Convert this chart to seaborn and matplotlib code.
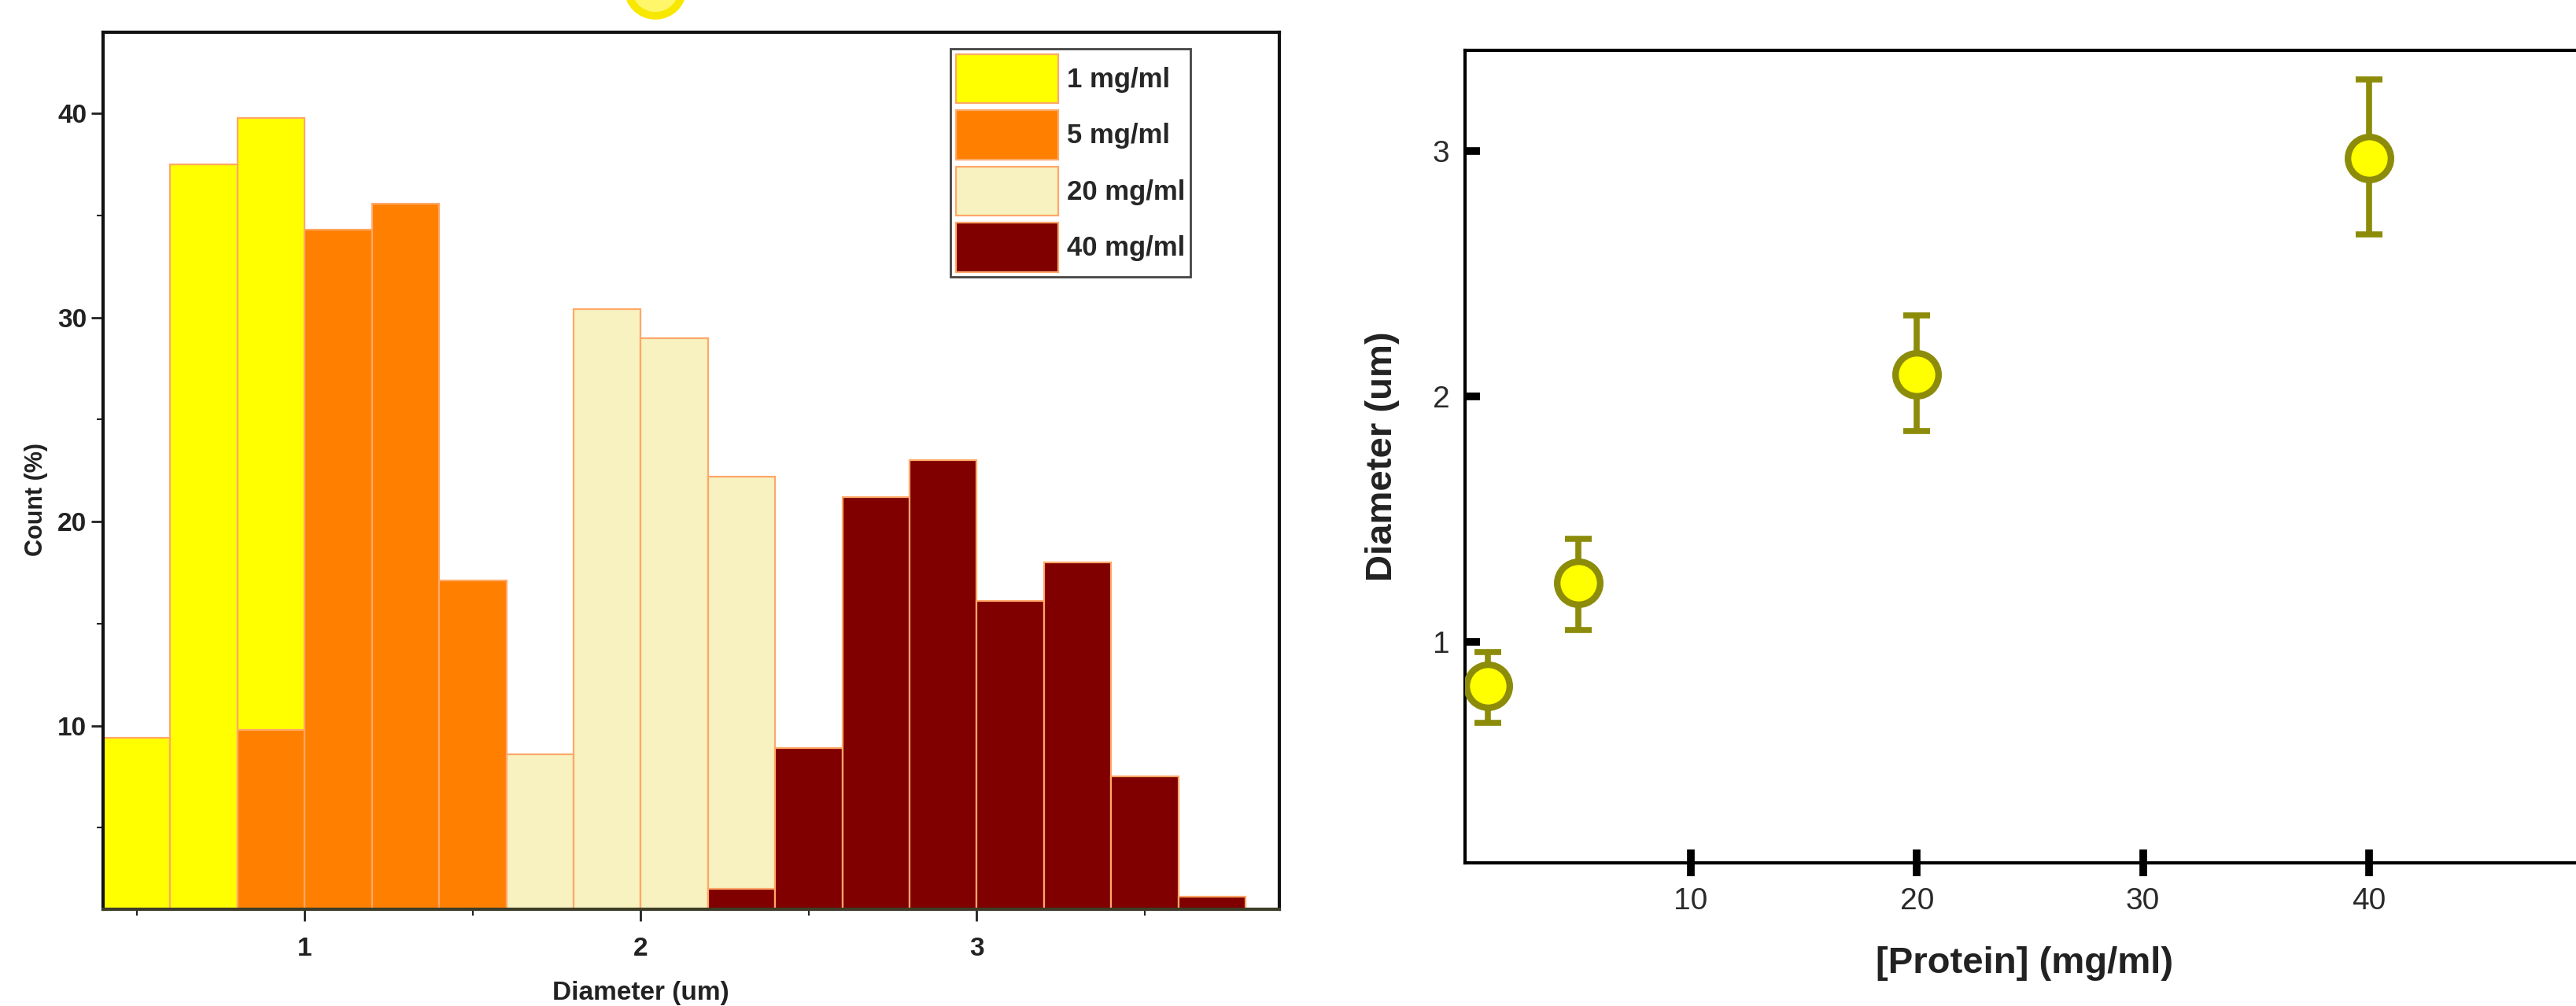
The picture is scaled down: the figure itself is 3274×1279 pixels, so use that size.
import matplotlib
matplotlib.use('Agg')
import matplotlib.pyplot as plt
from matplotlib.patches import Patch, Ellipse
import numpy as np
import seaborn as sns

sns.set_theme(style='ticks')
plt.rcParams['font.family'] = ['Liberation Sans', 'DejaVu Sans']

# ---- data (left: size distributions, bin centres / count %) ----
conc_labels = ['1 mg/ml', '5 mg/ml', '20 mg/ml', '40 mg/ml']
diam_1 = [0.5, 0.7, 0.9]
count_1 = [9.4, 37.5, 39.8]
diam_5 = [0.9, 1.1, 1.3, 1.5]
count_5 = [9.8, 34.3, 35.6, 17.1]
diam_20 = [1.7, 1.9, 2.1, 2.3]
count_20 = [8.6, 30.4, 29.0, 22.2]
diam_40 = [2.3, 2.5, 2.7, 2.9, 3.1, 3.3, 3.5, 3.7]
count_40 = [2.0, 8.9, 21.2, 23.0, 16.1, 18.0, 7.5, 1.6]
bin_edges = [0.4, 0.6, 0.8, 1.0, 1.2, 1.4, 1.6, 1.8, 2.0, 2.2, 2.4,
             2.6, 2.8, 3.0, 3.2, 3.4, 3.6, 3.8]

# ---- data (right: mean diameter vs protein concentration) ----
protein = [1, 5, 20, 40]
diam_mean = [0.82, 1.24, 2.09, 2.97]
diam_low = [0.67, 1.05, 1.86, 2.66]
diam_high = [0.96, 1.42, 2.33, 3.29]

bar_colors = ['#FFFF00', '#FF8000', '#F7F2C0', '#800000']
bar_edge = '#FFA868'
olive = '#8C8C0A'

fig = plt.figure(figsize=(32.74, 12.79), dpi=100)

# ---------------- left panel ----------------
ax1 = fig.add_axes([0.0400, 0.0962, 0.4566, 0.872])
series = [(diam_1, count_1), (diam_5, count_5), (diam_20, count_20), (diam_40, count_40)]
for (d, c), col in zip(series, bar_colors):
    sns.histplot(x=d, weights=c, bins=bin_edges, ax=ax1, color=col, alpha=1,
                 edgecolor=bar_edge, linewidth=1.6)

ax1.set_xlim(0.4, 3.9)
ax1.set_ylim(1, 44)
ax1.set_xticks([1, 2, 3])
ax1.set_xticks([0.5, 1.5, 2.5, 3.5], minor=True)
ax1.set_yticks([10, 20, 30, 40])
ax1.set_yticks([5, 15, 25, 35], minor=True)
ax1.tick_params(axis='both', which='major', direction='out', length=11, width=2,
                labelsize=24, color='#222222')
ax1.tick_params(axis='both', which='minor', direction='out', length=6, width=1.5,
                color='#222222')
ax1.tick_params(axis='x', which='major', pad=14)
ax1.tick_params(axis='y', which='major', pad=4)
for lab in ax1.get_xticklabels() + ax1.get_yticklabels():
    lab.set_fontweight('bold')
    lab.set_color('#222222')
for s in ax1.spines.values():
    s.set_linewidth(3)
    s.set_color('#111111')
ax1.spines['bottom'].set_color('#3d3d2a')

ax1.set_xlabel('Diameter (um)', fontsize=24, fontweight='bold', color='#222222')
ax1.xaxis.set_label_coords(0.457, -0.082)
ax1.set_ylabel('Count (%)', fontsize=22, fontweight='bold', color='#222222')
ax1.yaxis.set_label_coords(-0.047, 0.467)

handles = [Patch(facecolor=c, edgecolor=bar_edge, linewidth=1.6) for c in bar_colors]
leg = ax1.legend(handles, conc_labels, loc='upper right', bbox_to_anchor=(0.9244, 0.981),
                 prop={'weight': 'bold', 'size': 25}, frameon=True,
                 fancybox=False, framealpha=1, edgecolor='#444444',
                 handlelength=3.75, handleheight=2.4, labelspacing=0.25,
                 handletextpad=0.3, borderpad=0.2, borderaxespad=0)
leg.get_frame().set_linewidth(2)

# ---------------- right panel ----------------
ax2 = fig.add_axes([0.5687, 0.1423, 0.4386, 0.8077])
yerr = [np.array(diam_mean) - np.array(diam_low), np.array(diam_high) - np.array(diam_mean)]
ax2.errorbar(protein, diam_mean, yerr=yerr, fmt='none', ecolor=olive,
             elinewidth=5.5, capsize=12, capthick=5.5, zorder=2)
sns.scatterplot(x=protein, y=diam_mean, ax=ax2, s=1550, color='#FFFF00',
                edgecolor=olive, linewidth=6, zorder=3)

ax2.set_xlim(0, 50)
ax2.set_ylim(0.1, 3.41)
ax2.set_xticks([10, 20, 30, 40])
ax2.set_yticks([1, 2, 3])
ax2.tick_params(axis='x', direction='inout', length=25, width=7, pad=10,
                labelsize=28, labelcolor='#2a2a2a', color='black')
ax2.tick_params(axis='y', direction='in', length=14, width=7, pad=14,
                labelsize=28, labelcolor='#2a2a2a', color='black')
for s in ax2.spines.values():
    s.set_linewidth(3)
    s.set_color('black')

ax2.set_xlabel('[Protein] (mg/ml)', fontsize=34, fontweight='bold', color='#222222')
ax2.xaxis.set_label_coords(0.495, -0.103)
ax2.set_ylabel('Diameter (um)', fontsize=34, fontweight='bold', color='#222222')
ax2.yaxis.set_label_coords(-0.058, 0.5)

# cut-off yellow ring at the top edge of the slide
fig.patches.append(Ellipse((833 / 3274, 1 + 15 / 1279), 70 / 3274, 70 / 1279,
                           transform=fig.transFigure, facecolor='#FFF66A',
                           edgecolor='#F8E800', linewidth=7))

fig.savefig('out.png', dpi=100)
